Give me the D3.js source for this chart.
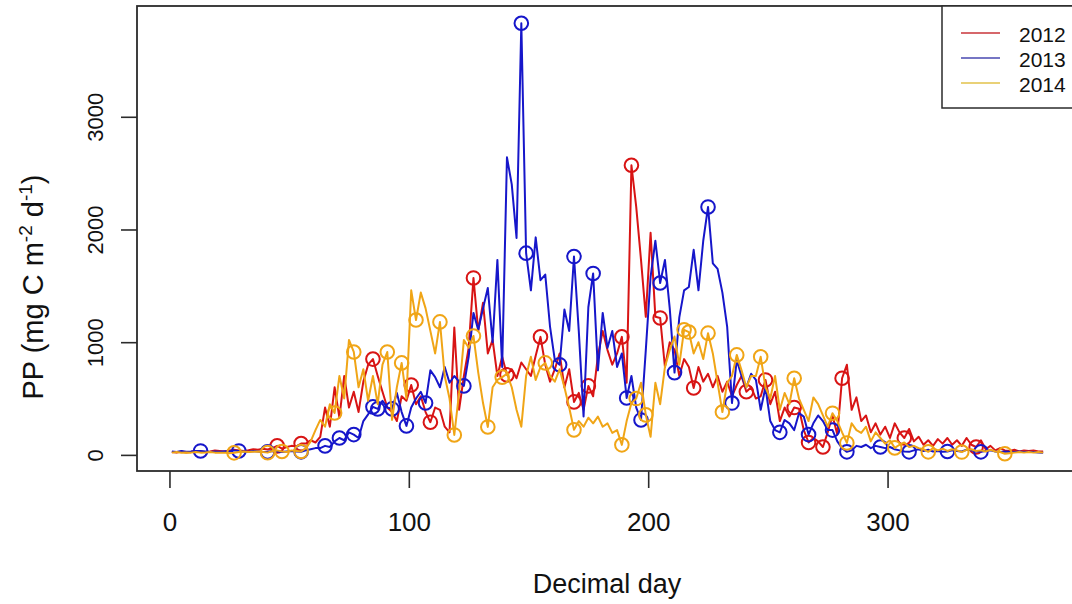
<!DOCTYPE html>
<html>
<head>
<meta charset="utf-8">
<script src="https://cdn.jsdelivr.net/npm/d3@7"></script>
<style>
  html, body { margin: 0; padding: 0; background: #fff; }
  svg { display: block; font-family: "Liberation Sans", Arial, sans-serif; }
</style>
</head>
<body>
<svg id="chart" width="1072" height="604"></svg>
<script>
// Daily primary production, sampled every other day (days 1, 3, ..., 365)
const days = d3.range(1, 366, 2);

const pp2012 = [
  25,20,30,22,28,35,30,25,30,40,
  35,30,38,45,40,35,42,50,45,55,
  48,60,80,55,70,80,75,100,100,130,
  110,160,420,250,600,330,700,420,560,380,
  650,800,850,700,560,420,380,300,520,480,
  620,450,520,380,290,420,400,250,200,1130,
  400,700,950,1570,1100,1350,900,1020,700,870,
  710,760,680,820,760,700,880,1047,800,650,
  760,900,600,760,470,550,400,612,520,880,
  1100,930,800,900,1047,640,2570,2200,1730,1225,
  1970,1225,1215,780,1000,930,700,850,780,594,
  780,650,720,600,700,560,650,520,620,700,
  560,600,500,520,665,450,560,300,420,340,
  420,410,220,110,150,120,70,200,350,180,
  680,800,400,510,300,350,200,280,180,250,
  150,280,200,150,230,120,160,90,130,80,
  140,100,150,90,130,80,150,90,70,130,
  50,80,40,60,40,35,45,30,40,35,
  40,30,30
];

const pp2013 = [
  30,25,35,28,30,35,35,30,25,30,
  28,32,30,40,35,30,28,35,30,25,
  27,35,30,25,30,35,30,27,40,50,
  60,60,80,70,120,150,130,200,180,150,
  300,360,426,408,480,420,408,550,380,257,
  420,500,560,461,750,690,600,780,640,700,
  650,612,870,1260,1110,1300,1480,1000,1730,780,
  2640,2400,1925,3830,1790,1460,1930,1550,1600,1135,
  840,800,1290,1100,1760,1100,340,1310,1610,750,
  1260,950,1100,780,900,505,700,420,310,930,
  1580,1900,1525,1730,1300,730,1220,1460,1490,1820,
  1460,1900,2200,1700,1650,1440,1135,460,840,700,
  600,720,665,400,600,300,220,200,310,280,
  220,370,340,180,280,350,300,220,220,120,
  60,27,40,80,70,90,60,80,70,60,
  70,50,40,30,27,40,50,35,45,30,
  35,27,30,40,35,30,45,40,30,27,
  35,40,30,25,30,28,25,30,25,28,
  25,22,20
];

const pp2014 = [
  20,25,18,22,20,25,20,22,25,20,
  18,20,15,18,25,30,25,28,30,25,
  20,35,40,30,25,40,35,30,60,120,
  220,310,250,450,372,700,500,1020,913,600,
  760,480,700,450,800,913,310,600,816,500,
  1460,1197,1440,1300,1100,900,1180,700,500,177,
  550,1020,950,1055,730,460,248,600,665,690,
  720,600,400,250,700,870,665,780,816,700,
  650,760,600,420,222,300,250,330,280,340,
  250,280,195,220,89,300,460,500,640,355,
  160,640,450,780,930,1050,800,1110,1090,900,
  1000,850,1080,900,640,380,640,700,887,750,
  600,700,700,870,600,500,700,400,550,450,
  680,500,400,300,510,450,350,250,370,300,
  200,106,280,220,195,250,120,200,150,100,
  130,62,90,110,70,80,60,50,27,60,
  40,55,35,50,40,25,45,50,35,40,
  30,45,30,25,10,15,20,25,20,25,
  20,25,20
];

// Days on which a measurement is circled
const marks2012 = [45,55,85,101,109,127,141,155,169,175,189,193,205,219,241,249,261,267,273,281,307,337];
const marks2013 = [13,29,41,55,65,71,77,85,87,93,99,107,123,147,149,163,169,177,191,197,205,211,225,235,255,267,277,283,297,309,325,339];
const marks2014 = [27,41,47,55,69,77,91,97,103,113,119,127,133,139,157,169,189,195,199,215,217,225,231,237,247,261,277,283,303,317,331,349];

const years = ["2012", "2013", "2014"];
const xTicks = [0, 100, 200, 300];
const yTicks = [0, 1000, 2000, 3000];

const colors = { "2012": "#D81414", "2013": "#1616CA", "2014": "#F0A516" };
const legendColors = { "2012": "#C8343A", "2013": "#4848B0", "2014": "#E2C24A" };

const series = [
  { year: "2012", values: pp2012, marks: marks2012 },
  { year: "2013", values: pp2013, marks: marks2013 },
  { year: "2014", values: pp2014, marks: marks2014 }
];

const svg = d3.select("#chart");
svg.append("rect").attr("width", 1072).attr("height", 604).attr("fill", "#fff");

const plot = { left: 137, top: 6, right: 1078, bottom: 471 };

const x = d3.scaleLinear().domain([-13.56, 379.56]).range([plot.left, plot.right]);
const y = d3.scaleLinear().domain([-143, 3983]).range([plot.bottom, plot.top]);

svg.append("clipPath").attr("id", "plotclip")
  .append("rect")
  .attr("x", plot.left).attr("y", plot.top)
  .attr("width", plot.right - plot.left).attr("height", plot.bottom - plot.top);

const g = svg.append("g").attr("clip-path", "url(#plotclip)");

const line = d3.line()
  .x((d, i) => x(days[i]))
  .y(d => y(d));

series.forEach(s => {
  g.append("path")
    .datum(s.values)
    .attr("fill", "none")
    .attr("stroke", colors[s.year])
    .attr("stroke-width", 2)
    .attr("stroke-linejoin", "round")
    .attr("d", line);

  g.selectAll(null)
    .data(s.marks)
    .enter()
    .append("circle")
    .attr("cx", d => x(d))
    .attr("cy", d => y(s.values[days.indexOf(d)]))
    .attr("r", 6.8)
    .attr("fill", "none")
    .attr("stroke", colors[s.year])
    .attr("stroke-width", 2);
});

// Plot frame
svg.append("rect")
  .attr("x", plot.left).attr("y", plot.top)
  .attr("width", plot.right - plot.left).attr("height", plot.bottom - plot.top)
  .attr("fill", "none").attr("stroke", "#2b2b2b").attr("stroke-width", 1.8);

// X axis
const xAxis = d3.axisBottom(x).tickValues(xTicks).tickSize(17).tickPadding(25).tickFormat(d3.format("d"));
const gx = svg.append("g").attr("transform", `translate(0,${plot.bottom})`).call(xAxis);
gx.select(".domain").remove();
gx.selectAll(".tick line").attr("stroke", "#2b2b2b").attr("stroke-width", 1.6);
gx.selectAll(".tick text").attr("font-size", 26).attr("fill", "#111")
  .attr("font-family", "Liberation Sans, Arial, sans-serif");

// Y axis with labels parallel to the axis
const yAxis = d3.axisLeft(y).tickValues(yTicks).tickSize(16).tickFormat(d3.format("d"));
const gy = svg.append("g").attr("transform", `translate(${plot.left},0)`).call(yAxis);
gy.select(".domain").remove();
gy.selectAll(".tick line").attr("stroke", "#2b2b2b").attr("stroke-width", 1.6);
gy.selectAll(".tick text")
  .attr("font-size", 22).attr("fill", "#111")
  .attr("font-family", "Liberation Sans, Arial, sans-serif")
  .attr("x", null).attr("dy", null)
  .attr("text-anchor", "middle")
  .attr("transform", "translate(-42,0) rotate(-90)")
  .attr("dominant-baseline", "central");

// Axis titles
svg.append("text")
  .attr("x", 607).attr("y", 593)
  .attr("text-anchor", "middle")
  .attr("font-size", 27).attr("fill", "#111")
  .text("Decimal day");

const yTitle = svg.append("text")
  .attr("transform", "translate(43,287) rotate(-90)")
  .attr("text-anchor", "middle")
  .attr("font-size", 29).attr("fill", "#111");
yTitle.append("tspan").text("PP (mg C m");
yTitle.append("tspan").attr("font-size", 19).attr("dy", -11).text("-2");
yTitle.append("tspan").attr("dy", 11).text(" d");
yTitle.append("tspan").attr("font-size", 19).attr("dy", -11).text("-1");
yTitle.append("tspan").attr("dy", 11).text(")");

// Legend
const legend = svg.append("g");
legend.append("rect")
  .attr("x", 942).attr("y", plot.top)
  .attr("width", 160).attr("height", 108 - plot.top)
  .attr("fill", "#fff").attr("stroke", "#2b2b2b").attr("stroke-width", 1.5);

years.forEach((yr, i) => {
  const ly = 33 + i * 25;
  legend.append("line")
    .attr("x1", 961).attr("x2", 1000)
    .attr("y1", ly).attr("y2", ly)
    .attr("stroke", legendColors[yr]).attr("stroke-width", 1.5);
  legend.append("text")
    .attr("x", 1019).attr("y", ly + 1)
    .attr("dominant-baseline", "central")
    .attr("font-size", 21).attr("fill", "#111")
    .text(yr);
});
</script>
</body>
</html>
